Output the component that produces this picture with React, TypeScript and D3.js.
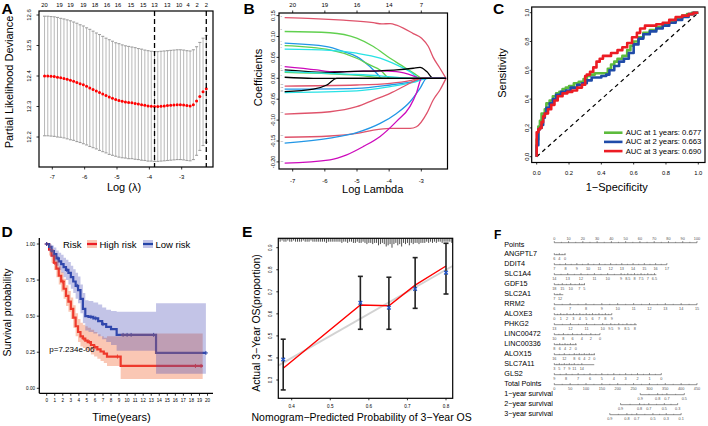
import React from 'react';
import * as d3 from 'd3';

const FONT = '"Liberation Sans", Arial, Helvetica, sans-serif';

// ================= Panel A : cv.glmnet =================
const aLogLambda = [-7.24,-7.14,-7.04,-6.94,-6.84,-6.74,-6.64,-6.54,-6.44,-6.34,-6.24,-6.14,-6.04,-5.94,-5.84,-5.74,-5.64,-5.54,-5.44,-5.34,-5.24,-5.14,-5.04,-4.94,-4.84,-4.74,-4.64,-4.54,-4.44,-4.34,-4.24,-4.14,-4.04,-3.94,-3.84,-3.74,-3.64,-3.54,-3.44,-3.34,-3.24,-3.14,-3.04,-2.94,-2.84,-2.74,-2.64,-2.54,-2.44,-2.34,-2.24];
const aCvm = [12.400,12.400,12.399,12.398,12.396,12.394,12.392,12.389,12.386,12.383,12.379,12.375,12.371,12.366,12.361,12.356,12.351,12.346,12.341,12.336,12.331,12.327,12.323,12.320,12.317,12.315,12.313,12.312,12.310,12.308,12.306,12.304,12.302,12.301,12.300,12.300,12.301,12.302,12.303,12.304,12.305,12.306,12.306,12.305,12.303,12.302,12.306,12.318,12.333,12.348,12.358];
const aCvsd = [0.196,0.196,0.196,0.196,0.196,0.195,0.195,0.195,0.195,0.194,0.194,0.193,0.193,0.192,0.192,0.191,0.190,0.190,0.189,0.188,0.188,0.187,0.186,0.186,0.185,0.184,0.184,0.183,0.183,0.182,0.182,0.181,0.181,0.180,0.180,0.180,0.180,0.180,0.180,0.180,0.180,0.180,0.180,0.180,0.180,0.180,0.180,0.178,0.177,0.176,0.175];
const aNzeroAt = [-7.24,-6.78,-6.44,-6.04,-5.68,-5.31,-4.97,-4.57,-4.19,-3.84,-3.45,-3.08,-2.80,-2.52,-2.24];
const aNzero = ['20','19','19','19','18','16','16','15','15','13','13','10','4','2','2'];
const aLambdaMin = -3.84;
const aLambda1se = -2.24;
const aXTicks = [-7, -6, -5, -4, -3];
const aYTicks = [12.2, 12.3, 12.4, 12.5, 12.6];

// ================= Panel B : coefficient paths =================
const bPaths: [number, number][][] = [
  [[-7.25,0.145],[-6.36,0.143],[-5.42,0.139],[-4.49,0.133],[-4.23,0.130],[-3.97,0.131],[-3.77,0.127],[-3.56,0.120],[-3.25,0.107],[-2.99,0.096],[-2.78,0.076],[-2.63,0.050],[-2.42,0.024],[-2.23,0]],
  [[-7.25,0.112],[-5.84,0.109],[-5.01,0.096],[-4.49,0.076],[-3.97,0.048],[-3.56,0.028],[-3.15,0.008],[-2.99,0],[-2.23,0]],
  [[-7.25,0.084],[-5.94,0.076],[-5.42,0.064],[-5.01,0.052],[-4.60,0.028],[-4.34,0.008],[-4.23,0],[-2.23,0]],
  [[-7.25,0.078],[-5.84,0.068],[-5.01,0.048],[-4.60,0.032],[-4.28,0.020],[-3.97,0],[-2.23,0]],
  [[-7.25,0.070],[-5.84,0.067],[-5.01,0.060],[-4.28,0.048],[-3.77,0.032],[-3.35,0.016],[-3.04,0],[-2.23,0]],
  [[-7.25,0.028],[-6.25,0.020],[-5.84,0.016],[-5.32,0.016],[-4.28,0.018],[-3.77,0.016],[-3.25,0.006],[-3.04,0],[-2.23,0]],
  [[-7.25,0.020],[-5.84,0.014],[-5.32,0.016],[-4.28,0.018],[-3.77,0.020],[-3.25,0.024],[-3.04,0.026],[-2.83,0.016],[-2.63,0],[-2.23,0]],
  [[-7.25,0.014],[-5.84,0.0105],[-4.80,0.006],[-4.08,0],[-2.23,0]],
  [[-7.25,0.016],[-5.32,0.010],[-4.28,0.006],[-3.35,0],[-2.23,0]],
  [[-7.25,-0.0185],[-5.01,-0.016],[-3.97,-0.012],[-3.35,-0.0055],[-3.04,0],[-2.23,0]],
  [[-7.25,-0.026],[-5.01,-0.024],[-3.97,-0.016],[-3.25,-0.008],[-2.83,0],[-2.23,0]],
  [[-7.25,-0.034],[-5.01,-0.030],[-3.97,-0.020],[-3.25,-0.010],[-2.78,0],[-2.23,0]],
  [[-7.25,-0.0855],[-5.84,-0.080],[-5.01,-0.068],[-4.49,-0.052],[-3.97,-0.036],[-3.46,-0.016],[-3.15,-0.004],[-2.99,0],[-2.23,0]],
  [[-7.25,-0.141],[-5.84,-0.138],[-5.01,-0.132],[-4.49,-0.124],[-3.97,-0.120],[-3.35,-0.120],[-3.15,-0.116],[-2.83,-0.084],[-2.63,-0.052],[-2.42,-0.028],[-2.23,0]],
  [[-7.25,-0.155],[-5.84,-0.143],[-5.01,-0.130],[-4.28,-0.108],[-3.77,-0.084],[-3.35,-0.056],[-3.04,-0.024],[-2.83,0],[-2.23,0]],
  [[-7.25,-0.203],[-5.84,-0.195],[-5.32,-0.183],[-4.80,-0.163],[-4.28,-0.139],[-3.77,-0.103],[-3.35,-0.067],[-3.15,-0.035],[-2.99,0],[-2.23,0]],
  [[-7.25,-0.032],[-6.36,-0.026],[-5.94,-0.016],[-5.63,0],[-2.23,0]],
  [[-7.25,0.0025],[-6.36,0],[-2.23,0]],
];
const bColors = ['#DF536B','#61D04F','#2297E6','#61D04F','#28E2E5','#CD0BBC','#000000','#61D04F','#28E2E5','#DF536B','#2297E6','#28E2E5','#DF536B','#DF536B','#2297E6','#CD0BBC','#000000','#000000'];
const bVarIds = ['3','5','9','2','6','8','7','4','11','15','12','14','13','10','16','18','17','1'];
const bTopAt = [-7, -6, -5, -4, -3];
const bTopLab = ['20', '19', '16', '14', '7'];
const bXTicks = [-7, -6, -5, -4, -3];
const bYTicks = [-0.2, -0.15, -0.1, -0.05, 0, 0.05, 0.1, 0.15];

// ================= Panel C : time-dependent ROC =================
const roc1Fpr = [0,0,0.01,0.01,0.02,0.03,0.04,0.05,0.06,0.08,0.10,0.12,0.14,0.16,0.18,0.20,0.23,0.26,0.29,0.31,0.33,0.36,0.40,0.44,0.46,0.48,0.50,0.53,0.56,0.58,0.60,0.63,0.66,0.70,0.74,0.78,0.82,0.86,0.90,0.93,0.96,1.0];
const roc1Tpr = [0,0.07,0.12,0.17,0.21,0.25,0.30,0.30,0.33,0.37,0.39,0.42,0.44,0.45,0.47,0.48,0.49,0.51,0.52,0.54,0.56,0.57,0.58,0.58,0.61,0.64,0.66,0.68,0.70,0.74,0.77,0.80,0.83,0.86,0.88,0.90,0.92,0.94,0.96,0.98,0.99,1.0];
const roc2Fpr = [0,0.01,0.01,0.02,0.03,0.04,0.05,0.06,0.08,0.10,0.12,0.15,0.18,0.21,0.25,0.28,0.31,0.34,0.37,0.40,0.43,0.45,0.48,0.51,0.54,0.57,0.60,0.63,0.66,0.70,0.74,0.78,0.82,0.86,0.90,0.94,0.97,1.0];
const roc2Tpr = [0,0.08,0.15,0.19,0.20,0.22,0.27,0.30,0.34,0.37,0.40,0.43,0.45,0.46,0.48,0.50,0.51,0.53,0.55,0.55,0.56,0.57,0.60,0.63,0.66,0.68,0.72,0.78,0.82,0.85,0.87,0.89,0.91,0.93,0.95,0.97,0.99,1.0];
const roc3Fpr = [0,0,0.01,0.02,0.03,0.04,0.05,0.07,0.09,0.11,0.13,0.16,0.19,0.22,0.25,0.28,0.30,0.31,0.33,0.35,0.37,0.39,0.41,0.43,0.46,0.50,0.53,0.56,0.59,0.62,0.64,0.67,0.70,0.74,0.78,0.82,0.86,0.90,0.94,0.97,1.0];
const roc3Tpr = [0,0.10,0.17,0.19,0.20,0.24,0.28,0.30,0.33,0.36,0.39,0.42,0.44,0.45,0.46,0.48,0.50,0.56,0.57,0.59,0.62,0.66,0.68,0.70,0.70,0.72,0.74,0.76,0.79,0.83,0.86,0.89,0.91,0.91,0.92,0.93,0.95,0.97,0.98,0.99,1.0];
const rocLegend = ['AUC at 1 years: 0.677', 'AUC at 2 years: 0.663', 'AUC at 3 years: 0.690'];
const rocColors = ['#5DBB3C', '#1F4BA8', '#EC1C24'];
const cTicks = [0, 0.2, 0.4, 0.6, 0.8, 1.0];

// ================= Panel D : Kaplan-Meier =================
const dHighT = [0,0.3,0.6,0.9,1.2,1.5,1.8,2.1,2.4,2.7,3.0,3.3,3.6,3.9,4.2,4.5,4.8,5.1,5.5,5.9,6.3,6.7,7.1,7.5,9.2,19.4];
const dHighS = [1.0,0.96,0.92,0.87,0.83,0.78,0.74,0.69,0.64,0.60,0.55,0.49,0.43,0.39,0.36,0.345,0.33,0.32,0.30,0.285,0.27,0.255,0.24,0.22,0.155,0.155];
const dHighUp = [1,0.99,0.965,0.925,0.885,0.845,0.805,0.76,0.715,0.675,0.63,0.575,0.52,0.48,0.455,0.44,0.43,0.42,0.405,0.39,0.375,0.36,0.35,0.36,0.38,0.38];
const dHighLo = [1,0.92,0.87,0.82,0.77,0.72,0.67,0.62,0.57,0.53,0.48,0.42,0.36,0.32,0.29,0.28,0.265,0.255,0.235,0.22,0.205,0.19,0.175,0.155,0.065,0.065];
const dLowT = [0,0.3,0.6,0.9,1.2,1.5,1.8,2.1,2.4,2.7,3.0,3.3,3.6,3.9,4.2,4.5,4.8,5.2,5.8,6.4,6.9,7.4,8.0,8.7,13.6,19.8];
const dLowS = [1,0.98,0.95,0.93,0.90,0.88,0.86,0.84,0.82,0.80,0.77,0.74,0.71,0.68,0.62,0.55,0.50,0.495,0.485,0.465,0.445,0.425,0.41,0.37,0.245,0.245];
const dLowUp = [1,1,0.99,0.975,0.955,0.94,0.925,0.905,0.89,0.875,0.85,0.825,0.80,0.775,0.72,0.66,0.61,0.605,0.595,0.58,0.56,0.545,0.535,0.53,0.59,0.59];
const dLowLo = [1,0.95,0.91,0.88,0.85,0.82,0.80,0.77,0.75,0.72,0.69,0.66,0.62,0.59,0.52,0.45,0.40,0.39,0.38,0.36,0.34,0.32,0.30,0.26,0.10,0.10];
const dHighCensor = [0, 1.0, 2.0, 4.6, 5.3, 6.0, 8.8, 18.5, 19.2];
const dLowCensor = [0, 1.4, 2.5, 3.8, 5.5, 6.1, 7.0, 9.5, 10.0, 10.5, 13.3, 19.8];
const dXTicks = [0,1,2,3,4,5,6,7,8,9,10,11,12,13,14,15,16,17,18,19,20];
const dYTicks = [0, 0.25, 0.5, 0.75, 1];
const dPValue = 'p=7.234e-06';

// ================= Panel E : calibration =================
const ePred = [0.378, 0.578, 0.652, 0.720, 0.800];
const eObs = [0.393, 0.650, 0.628, 0.713, 0.787];
const eLo = [0.255, 0.530, 0.530, 0.625, 0.690];
const eHi = [0.485, 0.770, 0.766, 0.855, 0.920];
const eCorr = [0.353, 0.640, 0.637, 0.730, 0.817];
const eIdeal = [0.365, 0.817];
const eRugStart = 0.37;
const eRugStep = 0.005;
const eRugCounts = [2,1,2,2,1,2,2,1,2,2,2,2,1,2,2,2,1,2,2,2,2,2,2,2,3,2,2,2,2,2,2,2,3,2,2,3,2,2,3,3,2,3,3,2,3,4,3,3,4,3,3,5,4,3,4,6,5,4,7,4,3,5,4,6,3,4,3,5,3,4,3,3,4,3,3,3,2,3,2,3,2,3,2,2,3,2,2,2,2,3];
const eXTicks = [0.4, 0.5, 0.6, 0.7, 0.8];
const eYTicks = [0.3, 0.4, 0.5, 0.6, 0.7, 0.8, 0.9];

// ================= Panel F : nomogram =================
const fPointsTicks = [0,10,20,30,40,50,60,70,80,90,100];
const fVarNames = ['ANGPTL7','DDIT4','SLC1A4','GDF15','SLC2A1','RRM2','ALOXE3','PHKG2','LINC00472','LINC00336','ALOX15','SLC7A11','GLS2'];
const fVarLabels = [
  ['6','4','0'],
  ['7','8','9','10','11','12','13','14','15','16','17'],
  ['14','13','12','11','10','9','8.5','8','7.5','7','6.5'],
  ['18','15','10','7','5'],
  ['7','12'],
  ['6','7','8','9','10','11','12','13','14','15'],
  ['0','1','2','3','4','5','6','7','8','9'],
  ['13','12','11','10','9.5','9','8.5','8'],
  ['10','8','6','4','2','0'],
  ['8','6','4','2','0'],
  ['16','12','8','6','4','2','0'],
  ['3','5','7','9','11','14'],
  ['9','8','7','6','5','4','3','2','1','0'],
];
const fVarPoints = [
  [0,3.5,7.5],
  [0,7.9,15.8,23.7,31.6,39.5,47.3,55.2,63.1,71.0,78.9],
  [0,9.4,18.7,28.1,37.4,46.8,51.5,56.2,60.8,65.5,70.2],
  [0,5.6,11.5,17.6,21.1],
  [0,4],
  [0,11.1,22.2,33.3,44.4,55.6,66.7,77.8,88.9,100],
  [0,4.5,8.9,13.4,17.9,22.4,26.8,31.3,35.8,40.3],
  [0,11.3,22.6,33.9,39.6,45.2,50.9,56.5],
  [0,6.4,12.8,19.2,25.6,32],
  [0,3.8,7.5,11.3,15],
  [0,7,14,17.5,21,24.5,28],
  [0,3.5,7,10.5,14,19.3],
  [0,8.3,16.7,25,33.3,41.7,50,58.3,66.7,75],
];
const fVarEnd = [7.9,78.9,71.5,21.5,6.3,100,40.3,57.8,32,15.7,28.5,28,75];
const fTotalTicks = [0,50,100,150,200,250,300,350,400,450];
const fSurvNames = ['1\u2212year survival','2\u2212year survival','3\u2212year survival'];
const fSurvLabels = [['0.9','0.8','0.7','0.5'],['0.9','0.8','0.7','0.5','0.3'],['0.9','0.8','0.7','0.5','0.3','0.1']];
const fSurvTotal = [[271,326,355,410],[209,269,298,347,389],[175,229,260,311,353,400]];

// ---------------------------------------------------------
function PanelLetter({ x, y, s, size = 15.5 }: { x: number; y: number; s: string; size?: number }) {
  return <text x={x} y={y} fontSize={size} fontWeight="bold">{s}</text>;
}

function PanelA() {
  const x = d3.scaleLinear().domain([-7, -3]).range([52.3, 181.7]);
  const y = d3.scaleLinear().domain([12.2, 12.6]).range([137, 15]);
  const L = 39, R = 213, T = 11, B = 167;
  return (
    <g>
      {aLogLambda.map((ll, i) => {
        const px = x(ll), hi = y(aCvm[i] + aCvsd[i]), lo = y(aCvm[i] - aCvsd[i]);
        return (
          <g key={i}>
            <line x1={px} x2={px} y1={hi} y2={lo} stroke="#B0B0B0" strokeWidth={0.9} />
            <line x1={px - 1.5} x2={px + 1.5} y1={hi} y2={hi} stroke="#A0A0A0" strokeWidth={1.1} />
            <line x1={px - 1.5} x2={px + 1.5} y1={lo} y2={lo} stroke="#A0A0A0" strokeWidth={1.1} />
          </g>
        );
      })}
      {aLogLambda.map((ll, i) => (
        <circle key={'p' + i} cx={x(ll)} cy={y(aCvm[i])} r={1.5} fill="#FF0000" />
      ))}
      {[aLambdaMin, aLambda1se].map((v, i) => (
        <line key={'d' + i} x1={x(v)} x2={x(v)} y1={T} y2={B} stroke="#000" strokeWidth={1.3} strokeDasharray="5,3" />
      ))}
      <rect x={L} y={T} width={R - L} height={B - T} fill="none" stroke="#000" strokeWidth={1.2} />
      {aXTicks.map(t => (
        <g key={'xt' + t}>
          <line x1={x(t)} x2={x(t)} y1={B} y2={B + 2.5} stroke="#000" strokeWidth={0.8} />
          <text x={x(t)} y={177} fontSize={6} textAnchor="middle" dominantBaseline="central">{t}</text>
        </g>
      ))}
      {aYTicks.map(t => (
        <g key={'yt' + t}>
          <line x1={L - 2.5} x2={L} y1={y(t)} y2={y(t)} stroke="#000" strokeWidth={0.8} />
          <text transform={`translate(29,${y(t)}) rotate(-90)`} fontSize={6} textAnchor="middle" dominantBaseline="central">{t.toFixed(1)}</text>
        </g>
      ))}
      {aNzeroAt.map((v, i) => (
        <text key={'nz' + i} x={x(v)} y={5} fontSize={5.8} textAnchor="middle" dominantBaseline="central">{aNzero[i]}</text>
      ))}
      <text x={124} y={190.5} fontSize={11} textAnchor="middle">Log (λ)</text>
      <text transform="translate(9,82) rotate(-90)" fontSize={11} textAnchor="middle" dominantBaseline="central">Partial Likelihood Deviance</text>
      <PanelLetter x={1.5} y={14} s="A" />
    </g>
  );
}

function PanelB() {
  const x = d3.scaleLinear().domain([-7, -3]).range([292.7, 421.3]);
  const y = d3.scaleLinear().domain([-0.2, 0.15]).range([161.9, 15.6]);
  const L = 279, R = 447.5, T = 13, B = 169;
  const line = d3.line<[number, number]>().x(d => x(d[0])).y(d => y(d[1])).curve(d3.curveMonotoneX);
  return (
    <g>
      <defs>
        <clipPath id="clipB"><rect x={L} y={T} width={R - L} height={B - T} /></clipPath>
      </defs>
      <g clipPath="url(#clipB)">
        {bPaths.map((p, i) => (
          <path key={i} d={line(p) || ''} fill="none" stroke={bColors[i]} strokeWidth={1.3} />
        ))}
      </g>
      {bPaths.map((p, i) => (
        <text key={'id' + i} x={L + 1.5} y={y(p[0][1]) - 1} fontSize={2.4} fill="#777">{bVarIds[i]}</text>
      ))}
      <rect x={L} y={T} width={R - L} height={B - T} fill="none" stroke="#000" strokeWidth={1.2} />
      {bXTicks.map(t => (
        <g key={'xt' + t}>
          <line x1={x(t)} x2={x(t)} y1={B} y2={B + 2.5} stroke="#000" strokeWidth={0.8} />
          <text x={x(t)} y={181} fontSize={6} textAnchor="middle" dominantBaseline="central">{t}</text>
        </g>
      ))}
      {bTopAt.map((t, i) => (
        <g key={'tt' + t}>
          <line x1={x(t)} x2={x(t)} y1={T} y2={T - 2.5} stroke="#000" strokeWidth={0.8} />
          <text x={x(t)} y={4.5} fontSize={6} textAnchor="middle" dominantBaseline="central">{bTopLab[i]}</text>
        </g>
      ))}
      {bYTicks.map(t => (
        <g key={'yt' + t}>
          <line x1={L - 2.5} x2={L} y1={y(t)} y2={y(t)} stroke="#000" strokeWidth={0.8} />
          <text transform={`translate(272.5,${y(t)}) rotate(-90)`} fontSize={5.5} textAnchor="middle" dominantBaseline="central">{t.toFixed(2)}</text>
        </g>
      ))}
      <text x={372.7} y={193} fontSize={11} textAnchor="middle">Log Lambda</text>
      <text transform="translate(257.5,77.5) rotate(-90)" fontSize={11} textAnchor="middle" dominantBaseline="central">Coefficients</text>
      <PanelLetter x={243.5} y={13.5} s="B" />
    </g>
  );
}

function PanelC() {
  const x = d3.scaleLinear().domain([0, 1]).range([536.7, 698.3]);
  const y = d3.scaleLinear().domain([0, 1]).range([156.7, 12.7]);
  const L = 531.7, R = 705, T = 7, B = 162.5;
  const curves = [[roc1Fpr, roc1Tpr], [roc2Fpr, roc2Tpr], [roc3Fpr, roc3Tpr]];
  const mk = (f: number[], t: number[]) =>
    d3.line<number>().x((_, i) => x(f[i])).y((_, i) => y(t[i])).curve(d3.curveStepBefore)(f) || '';
  return (
    <g>
      <line x1={x(0)} y1={y(0)} x2={x(1)} y2={y(1)} stroke="#000" strokeWidth={1.2} strokeDasharray="4,3.5" />
      {curves.map((c, i) => (
        <path key={i} d={mk(c[0], c[1])} fill="none" stroke={rocColors[i]} strokeWidth={2.6} strokeLinejoin="round" />
      ))}
      <rect x={L} y={T} width={R - L} height={B - T} fill="none" stroke="#000" strokeWidth={1.2} />
      {cTicks.map(t => (
        <g key={'xt' + t}>
          <line x1={x(t)} x2={x(t)} y1={B} y2={B + 2} stroke="#000" strokeWidth={0.8} />
          <text x={x(t)} y={172.5} fontSize={5.8} textAnchor="middle" dominantBaseline="central">{t.toFixed(1)}</text>
          <line x1={L - 2} x2={L} y1={y(t)} y2={y(t)} stroke="#000" strokeWidth={0.8} />
          <text transform={`translate(526.5,${y(t)}) rotate(-90)`} fontSize={5.8} textAnchor="middle" dominantBaseline="central">{t.toFixed(1)}</text>
        </g>
      ))}
      {rocLegend.map((s, i) => (
        <g key={'lg' + i}>
          <line x1={604} x2={622.5} y1={132.7 + i * 9.2} y2={132.7 + i * 9.2} stroke={rocColors[i]} strokeWidth={2.6} />
          <text x={625.7} y={132.7 + i * 9.2} fontSize={7.7} dominantBaseline="central">{s}</text>
        </g>
      ))}
      <text x={616.7} y={190.5} fontSize={11} textAnchor="middle">1{'\u2212'}Specificity</text>
      <text transform="translate(502,73) rotate(-90)" fontSize={11} textAnchor="middle" dominantBaseline="central">Sensitivity</text>
      <PanelLetter x={493} y={14} s="C" />
    </g>
  );
}

function stepAt(times: number[], vals: number[], t: number) {
  const i = Math.max(0, d3.bisectRight(times, t) - 1);
  return vals[i];
}

function PanelD() {
  const x = d3.scaleLinear().domain([0, 20]).range([46.7, 207.5]);
  const y = d3.scaleLinear().domain([0, 1]).range([388.3, 244]);
  const area = (t: number[], lo: number[], hi: number[]) =>
    d3.area<number>().x((_, i) => x(t[i])).y0((_, i) => y(lo[i])).y1((_, i) => y(hi[i])).curve(d3.curveStepAfter)(t) || '';
  const line = (t: number[], s: number[]) =>
    d3.line<number>().x((_, i) => x(t[i])).y((_, i) => y(s[i])).curve(d3.curveStepAfter)(t) || '';
  const redC = '#EC1C24', blueC = '#2545A8';
  const cross = (cx: number, cy: number, col: string, k: string) => (
    <g key={k} stroke={col} strokeWidth={1}>
      <line x1={cx - 2} x2={cx + 2} y1={cy} y2={cy} />
      <line x1={cx} x2={cx} y1={cy - 2} y2={cy + 2} />
    </g>
  );
  const axY = 393.3, axX = 39.3;
  return (
    <g>
      <path d={line(dHighT, dHighS)} fill="none" stroke={redC} strokeWidth={2.2} />
      <path d={line(dLowT, dLowS)} fill="none" stroke={blueC} strokeWidth={2.2} />
      {dHighCensor.map((t, i) => cross(x(t), y(stepAt(dHighT, dHighS, t)), redC, 'hc' + i))}
      {dLowCensor.map((t, i) => cross(x(t), y(stepAt(dLowT, dLowS, t)), blueC, 'lc' + i))}
      <path d={area(dHighT, dHighLo, dHighUp)} fill="#F26B3A" fillOpacity={0.38} />
      <path d={area(dLowT, dLowLo, dLowUp)} fill="#4A4DB5" fillOpacity={0.33} />
      <line x1={axX} x2={axX} y1={238} y2={axY} stroke="#000" strokeWidth={1.3} />
      <line x1={axX} x2={213} y1={axY} y2={axY} stroke="#000" strokeWidth={1.3} />
      {dYTicks.map(t => (
        <g key={'yt' + t}>
          <line x1={axX - 2.5} x2={axX} y1={y(t)} y2={y(t)} stroke="#000" strokeWidth={0.8} />
          <text x={35} y={y(t)} fontSize={4.6} textAnchor="end" dominantBaseline="central">{t.toFixed(2)}</text>
        </g>
      ))}
      {dXTicks.map(t => (
        <g key={'xt' + t}>
          <line x1={x(t)} x2={x(t)} y1={axY} y2={axY + 2.5} stroke="#000" strokeWidth={0.8} />
          <text x={x(t)} y={400.5} fontSize={4.6} textAnchor="middle" dominantBaseline="central">{t}</text>
        </g>
      ))}
      <text x={49.3} y={352} fontSize={8} >{dPValue}</text>
      <text x={63} y={244} fontSize={9.5} dominantBaseline="central">Risk</text>
      <rect x={87} y={240} width={10} height={8} fill="#F26B3A" fillOpacity={0.38} />
      <line x1={87} x2={97} y1={244} y2={244} stroke={redC} strokeWidth={2.2} />
      <text x={99.5} y={244} fontSize={9.5} dominantBaseline="central">High risk</text>
      <rect x={143} y={240} width={10} height={8} fill="#4A4DB5" fillOpacity={0.33} />
      <line x1={143} x2={153} y1={244} y2={244} stroke={blueC} strokeWidth={2.2} />
      <text x={155.5} y={244} fontSize={9.5} dominantBaseline="central">Low risk</text>
      <text x={121.5} y={421} fontSize={11} textAnchor="middle">Time(years)</text>
      <text transform="translate(6.5,312.5) rotate(-90)" fontSize={10.5} textAnchor="middle" dominantBaseline="central">Survival probability</text>
      <PanelLetter x={1.5} y={236.5} s="D" />
    </g>
  );
}

function PanelE() {
  const x = d3.scaleLinear().domain([0.4, 0.8]).range([291.7, 446]);
  const y = d3.scaleLinear().domain([0.3, 0.9]).range([380, 247.7]);
  const L = 278.3, R = 452.7, T = 238.3, B = 398.3;
  const corr = d3.line<number>().x((_, i) => x(ePred[i])).y((_, i) => y(eCorr[i]))(ePred) || '';
  return (
    <g>
      <line x1={x(eIdeal[0])} y1={y(eIdeal[0])} x2={x(eIdeal[1])} y2={y(eIdeal[1])} stroke="#D2D2D2" strokeWidth={2} />
      <path d={corr} fill="none" stroke="#FF0000" strokeWidth={1.4} />
      {eRugCounts.map((c, i) => {
        const px = x(eRugStart + i * eRugStep);
        return <line key={'r' + i} x1={px} x2={px} y1={T} y2={T + 1 + c * 1.2} stroke="#000" strokeWidth={0.7} />;
      })}
      {ePred.map((p, i) => (
        <g key={'e' + i} stroke="#222" strokeWidth={1.6}>
          <line x1={x(p)} x2={x(p)} y1={y(eLo[i])} y2={y(eHi[i])} />
          <line x1={x(p) - 2.5} x2={x(p) + 2.5} y1={y(eLo[i])} y2={y(eLo[i])} />
          <line x1={x(p) - 2.5} x2={x(p) + 2.5} y1={y(eHi[i])} y2={y(eHi[i])} />
        </g>
      ))}
      {ePred.map((p, i) => (
        <g key={'m' + i} stroke="#2255C8" strokeWidth={1.3}>
          <line x1={x(p) - 1.8} x2={x(p) + 1.8} y1={y(eObs[i]) - 1.8} y2={y(eObs[i]) + 1.8} />
          <line x1={x(p) - 1.8} x2={x(p) + 1.8} y1={y(eObs[i]) + 1.8} y2={y(eObs[i]) - 1.8} />
        </g>
      ))}
      <rect x={L} y={T} width={R - L} height={B - T} fill="none" stroke="#000" strokeWidth={1.2} />
      {eXTicks.map(t => (
        <g key={'xt' + t}>
          <line x1={x(t)} x2={x(t)} y1={B} y2={B + 2} stroke="#000" strokeWidth={0.8} />
          <text x={x(t)} y={406.5} fontSize={4.6} textAnchor="middle" dominantBaseline="central">{t.toFixed(1)}</text>
        </g>
      ))}
      {eYTicks.map(t => (
        <g key={'yt' + t}>
          <line x1={L - 2} x2={L} y1={y(t)} y2={y(t)} stroke="#000" strokeWidth={0.8} />
          <text transform={`translate(270,${y(t)}) rotate(-90)`} fontSize={4.6} textAnchor="middle" dominantBaseline="central">{t.toFixed(1)}</text>
        </g>
      ))}
      <text x={251.5} y={421} fontSize={10.5}>Nomogram{'\u2212'}Predicted Probability of 3{'\u2212'}Year OS</text>
      <text transform="translate(256,323) rotate(-90)" fontSize={10.5} textAnchor="middle" dominantBaseline="central">Actual 3{'\u2212'}Year OS(proportion)</text>
      <PanelLetter x={242} y={236.5} s="E" />
    </g>
  );
}

function PanelF() {
  const xp = d3.scaleLinear().domain([0, 100]).range([554.3, 697]);
  const xt = d3.scaleLinear().domain([0, 450]).range([554.3, 697]);
  const rowY = d3.scaleLinear().domain([1, 17]).range([253.3, 413.3]);
  const nameX = 504.3;
  const lineCol = '#444';
  const tickLab = '#555';
  const axisRow = (key: string, yText: number, pos: number[], labs: string[], end: [number, number], above = false) => {
    const ly = above ? yText - 1.3 : yText + 1.4;
    const labY = above ? ly - 4 : ly + 4;
    const minors: number[] = [];
    for (let i = 0; i < pos.length - 1; i++) minors.push((pos[i] + pos[i + 1]) / 2);
    return (
      <g key={key}>
        <line x1={end[0]} x2={end[1]} y1={ly} y2={ly} stroke={lineCol} strokeWidth={0.6} />
        {pos.map((p, i) => (
          <g key={i}>
            <line x1={p} x2={p} y1={ly} y2={ly - 1.6} stroke={lineCol} strokeWidth={0.6} />
            <text x={p} y={labY} fontSize={3.8} fill={tickLab} textAnchor="middle" dominantBaseline="central">{labs[i]}</text>
          </g>
        ))}
        {minors.map((p, i) => (
          <line key={'m' + i} x1={p} x2={p} y1={ly} y2={ly - 0.9} stroke={lineCol} strokeWidth={0.5} />
        ))}
      </g>
    );
  };
  return (
    <g>
      <PanelLetter x={494} y={238.5} s="F" size={12} />
      <text x={nameX} y={244} fontSize={7.2} dominantBaseline="central">Points</text>
      {axisRow('pts', 244, fPointsTicks.map(v => xp(v)), fPointsTicks.map(String), [xp(0), xp(100)], true)}
      {fVarNames.map((n, i) => (
        <g key={n}>
          <text x={nameX} y={rowY(i + 1)} fontSize={7.2} dominantBaseline="central">{n}</text>
          {axisRow('v' + i, rowY(i + 1), fVarPoints[i].map(v => xp(v)), fVarLabels[i], [xp(0), xp(fVarEnd[i])])}
        </g>
      ))}
      <text x={nameX} y={rowY(14)} fontSize={7.2} dominantBaseline="central">Total Points</text>
      {axisRow('tot', rowY(14), fTotalTicks.map(v => xt(v)), fTotalTicks.map(String), [xt(0), xt(450)])}
      {fSurvNames.map((n, i) => {
        const pos = fSurvTotal[i].map(v => xt(v));
        return (
          <g key={n}>
            <text x={nameX} y={rowY(15 + i)} fontSize={7.2} dominantBaseline="central">{n}</text>
            {axisRow('s' + i, rowY(15 + i), pos, fSurvLabels[i], [pos[0], pos[pos.length - 1]])}
          </g>
        );
      })}
    </g>
  );
}

export default function App() {
  return (
    <svg width={708} height={426} viewBox="0 0 708 426"
      style={{ position: 'absolute', left: 0, top: 0, display: 'block' }}
      fontFamily={FONT}>
      <rect x={0} y={0} width={708} height={426} fill="#fff" />
      <PanelA />
      <PanelB />
      <PanelC />
      <PanelD />
      <PanelE />
      <PanelF />
    </svg>
  );
}
